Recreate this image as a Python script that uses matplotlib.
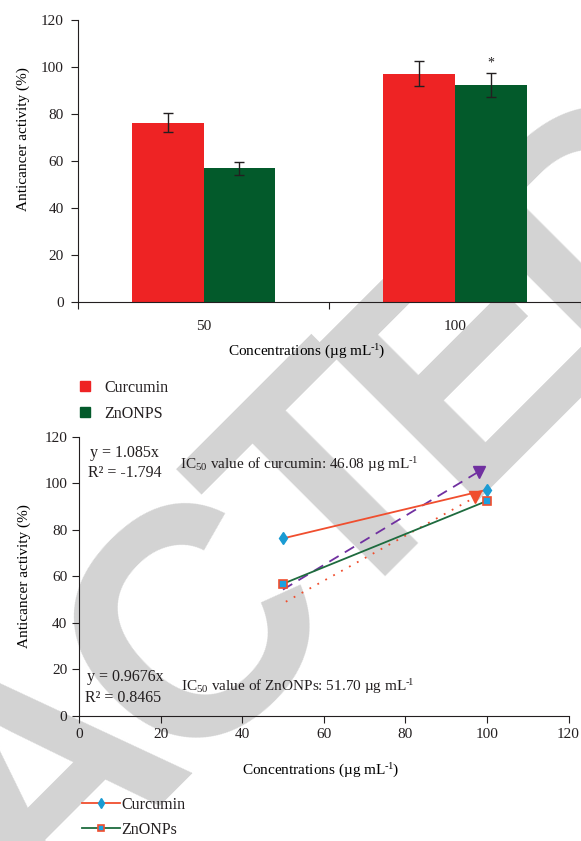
import numpy as np
import matplotlib
matplotlib.use('Agg')
import matplotlib.pyplot as plt
from matplotlib.patches import Patch

plt.rcParams['font.family'] = ['Liberation Serif', 'DejaVu Serif']
plt.rcParams['mathtext.fontset'] = 'custom'
plt.rcParams['mathtext.rm'] = 'Liberation Serif'
plt.rcParams['mathtext.it'] = 'Liberation Serif:italic'
plt.rcParams['text.color'] = '#231f20'
plt.rcParams['axes.edgecolor'] = '#231f20'
plt.rcParams['xtick.color'] = '#231f20'
plt.rcParams['ytick.color'] = '#231f20'

# data
concentrations = ['50', '100']
curcumin = [76.3, 97.2]
curcumin_err = [4.0, 5.2]
znonps = [56.8, 92.4]
znonps_err = [2.8, 5.2]

conc_x = [50, 100]
trend_x_cur = [50, 98]
trend_cur = [54.3, 105.0]
trend_x_zn = [50.7, 97]
trend_zn = [49.1, 93.9]

RED = '#ee2324'
GREEN = '#035a2b'
DARK = '#231f20'
UNIT = 'µg mL$^{\u2010\\!1}$'

fig = plt.figure(figsize=(5.81, 8.41), dpi=100)

# "RETRACTED" watermark, one letter at a time along a 45 degree baseline
wm_letters = ['R', 'E', 'T', 'R', 'A', 'C', 'T', 'E', 'D']
wm_adv = np.array([0.722, 0.667, 0.611, 0.722, 0.722, 0.722, 0.611, 0.667, 0.722])
em = 325
track = 0.9
centers = (np.cumsum(wm_adv) - wm_adv / 2) * em * track
centers = centers - centers[6]          # second T anchored
theta = np.deg2rad(45)
bx, by = 401, 557                       # baseline centre of that T (px)
for c, ch in zip(centers, wm_letters):
    px = bx + c * np.cos(theta)
    py = by - c * np.sin(theta)
    fig.text(px / 581, 1 - py / 841, ch, rotation=45, rotation_mode='anchor',
             ha='center', va='baseline', fontsize=em * 0.72, fontweight='bold',
             family='Liberation Sans', color='#d3d3d3', zorder=-5)

# Chart 1: bars
ax1 = fig.add_axes([77.7 / 581, 1 - 301.7 / 841, (581 - 77.7) / 581, 281.7 / 841])
ax1.set_facecolor('none')
x = np.arange(len(concentrations))
w = 0.285
ax1.bar(x - w / 2, curcumin, w, color=RED, yerr=curcumin_err, capsize=3.5,
        error_kw=dict(elinewidth=1, ecolor=DARK, capthick=1), label='Curcumin')
ax1.bar(x + w / 2, znonps, w, color=GREEN, yerr=znonps_err, capsize=3.5,
        error_kw=dict(elinewidth=1, ecolor=DARK, capthick=1), label='ZnONPS')
ax1.text(1 + w / 2, znonps[1] + znonps_err[1] + 1.5, '*', ha='center', va='bottom', fontsize=10)
ax1.set_xlim(-0.5, (581 - 205) / 256)
ax1.set_ylim(0, 120)
ax1.set_yticks(range(0, 121, 20))
ax1.set_xticks([-0.5, 0.5, 1.5])
ax1.set_xticklabels([])
ax1.set_xticks(x, minor=True)
ax1.set_xticklabels(concentrations, minor=True)
ax1.tick_params(axis='x', which='minor', length=0, pad=13, labelsize=11)
ax1.tick_params(axis='x', which='major', direction='out', length=5)
ax1.tick_params(axis='y', direction='out', length=5, pad=5, labelsize=11)
for s in ['top', 'right']:
    ax1.spines[s].set_visible(False)
ax1.set_ylabel('Anticancer activity (%)', fontsize=11)
ax1.yaxis.set_label_coords(-0.095, 0.578)
ax1.set_xlabel('Concentrations (' + UNIT + ')', fontsize=11)
ax1.xaxis.set_label_coords(0.4556, -0.145)
ax1.legend(handles=[Patch(color=RED, label='Curcumin'), Patch(color=GREEN, label='ZnONPS')],
           loc='upper left', bbox_to_anchor=(80 / 581, 1 - 380 / 841),
           bbox_transform=fig.transFigure, frameon=False, fontsize=11.5,
           handlelength=0.6, handleheight=0.6, handletextpad=0.9,
           labelspacing=0.6, borderpad=0, borderaxespad=0)

# Chart 2: lines with trendlines
ax2 = fig.add_axes([79 / 581, 1 - 716 / 841, 489.5 / 581, 279.3 / 841])
ax2.set_facecolor('none')
ax2.plot(conc_x, curcumin, color='#f04e2e', lw=1.3, marker='d', markersize=6,
         markerfacecolor='#1a9bd3', markeredgecolor='#1a9bd3', label='Curcumin', zorder=4)
ax2.plot(conc_x, znonps, color='#1e6b3e', lw=1.3, marker='s', markersize=6,
         markerfacecolor='#1ba1e2', markeredgecolor='#f04e2e', markeredgewidth=1.2,
         label='ZnONPs', zorder=4)
ax2.plot(trend_x_cur, trend_cur, color='#7030a0', lw=1.3, ls=(0, (6, 4)), zorder=3)
ax2.plot(trend_x_cur[-1], trend_cur[-1], marker='v', markersize=9, color='#7030a0', zorder=3)
ax2.plot(trend_x_zn, trend_zn, color='#f04e2e', lw=1.3, ls=(0, (1, 4)), zorder=3)
ax2.plot(trend_x_zn[-1], trend_zn[-1], marker='v', markersize=9, color='#f04e2e', zorder=3)

ax2.text(2.6, 113, 'y = 1.085x', fontsize=11.5, va='center')
ax2.text(2.1, 104.4, 'R² = -1.794', fontsize=11.5, va='center')
ax2.text(24.7, 108, 'IC$_{50}$ value of curcumin: 46.08 ' + UNIT, fontsize=11, va='center')
ax2.text(2.0, 16.8, 'y = 0.9676x', fontsize=11.5, va='center')
ax2.text(1.4, 7.7, 'R² = 0.8465', fontsize=11.5, va='center')
ax2.text(25.1, 12.5, 'IC$_{50}$ value of ZnONPs: 51.70 ' + UNIT, fontsize=11, va='center')

ax2.set_xlim(0, 120)
ax2.set_ylim(0, 120)
ax2.set_xticks(range(0, 121, 20))
ax2.set_yticks(range(0, 121, 20))
ax2.tick_params(direction='out', length=5, labelsize=11)
ax2.tick_params(axis='x', pad=4)
for s in ['top', 'right']:
    ax2.spines[s].set_visible(False)
ax2.set_ylabel('Anticancer activity (%)', fontsize=11)
ax2.yaxis.set_label_coords(-0.098, 0.5)
ax2.set_xlabel('Concentrations (' + UNIT + ')', fontsize=11)
ax2.xaxis.set_label_coords(0.494, -0.165)
ax2.legend(loc='upper left', bbox_to_anchor=(82 / 581, 1 - 797 / 841),
           bbox_transform=fig.transFigure, frameon=False, fontsize=11.5,
           handlelength=2.35, handletextpad=0.1, labelspacing=0.55,
           borderpad=0, borderaxespad=0, markerscale=0.8)

plt.savefig('out.png', dpi=100)
plt.close()
